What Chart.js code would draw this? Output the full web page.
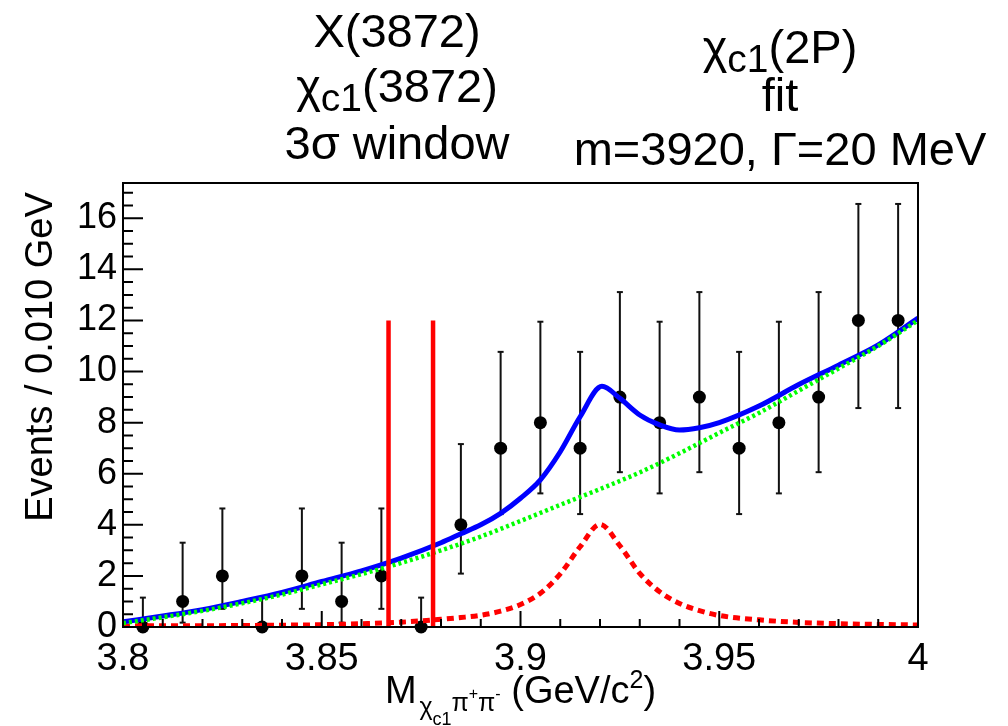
<!DOCTYPE html>
<html>
<head>
<meta charset="utf-8">
<script src="https://cdn.jsdelivr.net/npm/chart.js@4.4.1/dist/chart.umd.min.js"></script>
<style>
  html, body { margin: 0; padding: 0; background: #fff; }
  #wrap { width: 1008px; height: 726px; }
</style>
</head>
<body>
<div id="wrap"><canvas id="massChart" width="1008" height="726"></canvas></div>
<script>
// histogram: bin centres, counts, poisson error ends
const binCenters = [3.805, 3.815, 3.825, 3.835, 3.845, 3.855, 3.865, 3.875, 3.885, 3.895,
                    3.905, 3.915, 3.925, 3.935, 3.945, 3.955, 3.965, 3.975, 3.985, 3.995];
const counts  = [0, 1, 2, 0, 2, 1, 2, 0, 4, 7, 8, 7, 9, 8, 9, 7, 8, 9, 12, 12];
const errLow  = [0, 0.17, 0.71, 0, 0.71, 0.17, 0.71, 0, 2.09, 4.42, 5.23, 4.42, 6.06, 5.23, 6.06, 4.42, 5.23, 6.06, 8.57, 8.57];
const errHigh = [1.15, 3.30, 4.64, 1.15, 4.64, 3.30, 4.64, 1.15, 7.16, 10.77, 11.95, 10.77, 13.11, 11.95, 13.11, 10.77, 11.95, 13.11, 16.56, 16.56];

// total fit (blue)
const totalX = [3.80, 3.81, 3.82, 3.83, 3.84, 3.85, 3.86, 3.87, 3.88, 3.885, 3.89, 3.895, 3.90, 3.905,
                3.91, 3.915, 3.9205, 3.925, 3.93, 3.935, 3.94, 3.945, 3.95, 3.96, 3.97, 3.98, 3.99, 4.00];
const totalY = [0.20, 0.43, 0.68, 1.00, 1.35, 1.78, 2.20, 2.70, 3.30, 3.65, 4.00, 4.45, 5.04, 5.76,
                6.86, 8.23, 9.42, 8.95, 8.30, 7.91, 7.71, 7.80, 8.00, 8.65, 9.49, 10.25, 11.04, 12.09];

// signal component (red dashed)
const signalX = [3.80, 3.81, 3.82, 3.83, 3.84, 3.85, 3.86, 3.87, 3.88, 3.885, 3.89, 3.895, 3.90, 3.905,
                 3.91, 3.915, 3.92, 3.925, 3.93, 3.935, 3.94, 3.945, 3.95, 3.96, 3.97, 3.98, 3.99, 4.00];
const signalY = [0.04, 0.05, 0.05, 0.06, 0.07, 0.09, 0.13, 0.19, 0.30, 0.37, 0.46, 0.62, 0.88, 1.32,
                 2.08, 3.14, 4.02, 3.18, 2.10, 1.38, 0.92, 0.64, 0.45, 0.28, 0.18, 0.13, 0.10, 0.08];

// background component (green dotted)
const bkgX = [3.80, 3.81, 3.82, 3.83, 3.84, 3.85, 3.86, 3.87, 3.88, 3.89, 3.90,
              3.91, 3.92, 3.93, 3.94, 3.95, 3.96, 3.97, 3.98, 3.99, 4.00];
const bkgY = [0.15, 0.38, 0.63, 0.93, 1.27, 1.67, 2.07, 2.51, 3.00, 3.54, 4.15,
              4.78, 5.40, 6.05, 6.80, 7.60, 8.38, 9.25, 10.12, 11.00, 12.00];

// X(3872) 3 sigma window
const windowEdges = [3.8668, 3.8780];
const windowTop = 12;

const xTickValues = [3.8, 3.85, 3.9, 3.95, 4.0];
const xTickLabels = ['3.8', '3.85', '3.9', '3.95', '4'];
const yTickValues = [0, 2, 4, 6, 8, 10, 12, 14, 16];
const yTickLabels = ['0', '2', '4', '6', '8', '10', '12', '14', '16'];
const yMax = 17.38;

const FONT = '"Liberation Sans", Arial, sans-serif';

const zip = (xs, ys) => xs.map((x, i) => ({ x: x, y: ys[i] }));

const errorSegments = [];
binCenters.forEach((x, i) => {
  errorSegments.push({ x: x, y: errLow[i] }, { x: x, y: errHigh[i] }, { x: x, y: null });
});

function drawRich(ctx, parts, cx, baseline) {
  let total = 0;
  parts.forEach(p => {
    ctx.font = p[1] + 'px ' + FONT;
    p.w = ctx.measureText(p[0]).width;
    total += p.w;
  });
  let x = cx - total / 2;
  ctx.textAlign = 'left';
  ctx.textBaseline = 'alphabetic';
  parts.forEach(p => {
    ctx.font = p[1] + 'px ' + FONT;
    ctx.fillText(p[0], x, baseline + p[2]);
    x += p.w;
  });
}

// frame, inward ticks and the annotation text
const rootFrame = {
  id: 'rootFrame',
  afterDatasetsDraw(chart) {
    const ctx = chart.ctx;
    const a = chart.chartArea;
    const xs = chart.scales.x, ys = chart.scales.y;
    ctx.save();
    ctx.strokeStyle = '#000';
    ctx.lineWidth = 2;
    ctx.beginPath();
    for (let i = 0; i <= 20; i++) {
      const px = xs.getPixelForValue(3.8 + i * 0.01);
      const len = i % 5 === 0 ? 16 : 8;
      ctx.moveTo(px, a.bottom);
      ctx.lineTo(px, a.bottom - len);
    }
    for (let i = 0; i * 0.5 <= yMax; i++) {
      const py = ys.getPixelForValue(i * 0.5);
      const len = i % 4 === 0 ? 20 : 10;
      ctx.moveTo(a.left, py);
      ctx.lineTo(a.left + len, py);
    }
    ctx.stroke();
    ctx.strokeRect(a.left, a.top, a.right - a.left, a.bottom - a.top);

    ctx.fillStyle = '#000';
    // top annotations
    drawRich(ctx, [['X(3872)', 47, 0]], 397, 47);
    drawRich(ctx, [['\u03c7', 47, 0], ['c1', 39, 9], ['(3872)', 47, 0]], 397, 102);
    drawRich(ctx, [['3\u03c3 window', 47, 0]], 397, 159);
    drawRich(ctx, [['\u03c7', 47, 0], ['c1', 39, 9], ['(2P)', 47, 0]], 780, 63);
    drawRich(ctx, [['fit', 47, 0]], 780, 111);
    drawRich(ctx, [['m=3920, \u0393=20 MeV', 47, 0]], 780, 165);

    // x title
    drawRich(ctx, [['M', 38, 0], [' ', 10, 0], ['\u03c7', 25, 12], ['c1', 18, 22],
                   ['\u03c0', 25, 8], ['+', 16, -4], ['\u03c0', 25, 8], ['-', 16, -4],
                   [' (GeV/c', 38, 0], ['2', 25, -15], [')', 38, 0]],
             (a.left + a.right) / 2, 703);

    // y title
    ctx.translate(52, 357);
    ctx.rotate(-Math.PI / 2);
    drawRich(ctx, [['Events / 0.010 GeV', 38, 0]], 0, 0);
    ctx.restore();
  }
};

new Chart(document.getElementById('massChart'), {
  type: 'line',
  data: {
    datasets: [
      {
        label: 'window1', data: zip([windowEdges[0], windowEdges[0]], [0, windowTop]),
        borderColor: '#ff0000', borderWidth: 4.5, pointRadius: 0, tension: 0, order: 0
      },
      {
        label: 'window2', data: zip([windowEdges[1], windowEdges[1]], [0, windowTop]),
        borderColor: '#ff0000', borderWidth: 4.5, pointRadius: 0, tension: 0, order: 0
      },
      {
        label: 'background', data: zip(bkgX, bkgY),
        borderColor: '#00ff00', borderWidth: 4.5, borderDash: [3, 3], pointRadius: 0,
        cubicInterpolationMode: 'monotone', order: 1
      },
      {
        label: 'total', data: zip(totalX, totalY),
        borderColor: '#0000ff', borderWidth: 5, pointRadius: 0,
        cubicInterpolationMode: 'monotone', order: 2
      },
      {
        label: 'signal', data: zip(signalX, signalY),
        borderColor: '#ff0000', borderWidth: 5, borderDash: [7, 5], pointRadius: 0,
        cubicInterpolationMode: 'monotone', order: 3
      },
      {
        label: 'data', data: zip(binCenters, counts), showLine: false,
        pointRadius: 6.5, pointBackgroundColor: '#000', pointBorderColor: '#000', pointBorderWidth: 0,
        clip: false, order: 4
      },
      {
        label: 'errors', data: errorSegments, spanGaps: false, tension: 0,
        borderColor: '#111', borderWidth: 2,
        pointStyle: 'line', pointRadius: 3, pointBorderColor: '#111', pointBorderWidth: 2,
        clip: false, order: 5
      }
    ]
  },
  options: {
    responsive: false,
    animation: false,
    events: [],
    layout: { padding: { top: 183, right: 90, bottom: 0, left: 0 } },
    plugins: { legend: { display: false }, tooltip: { enabled: false } },
    scales: {
      x: {
        type: 'linear', min: 3.8, max: 4.0,
        grid: { display: false, drawTicks: false },
        border: { display: false },
        afterBuildTicks: s => { s.ticks = xTickValues.map(v => ({ value: v })); },
        afterFit: s => { s.height = 99; },
        ticks: {
          autoSkip: false, maxRotation: 0, padding: 10, color: '#000',
          font: { family: FONT, size: 38 },
          callback: (v, i) => xTickLabels[i]
        }
      },
      y: {
        type: 'linear', min: 0, max: yMax,
        grid: { display: false, drawTicks: false },
        border: { display: false },
        afterBuildTicks: s => { s.ticks = yTickValues.map(v => ({ value: v })); },
        afterFit: s => { s.width = 123; },
        ticks: {
          autoSkip: false, padding: 6, color: '#000',
          font: { family: FONT, size: 36 },
          callback: (v, i) => yTickLabels[i]
        }
      }
    }
  },
  plugins: [rootFrame]
});
</script>
</body>
</html>
